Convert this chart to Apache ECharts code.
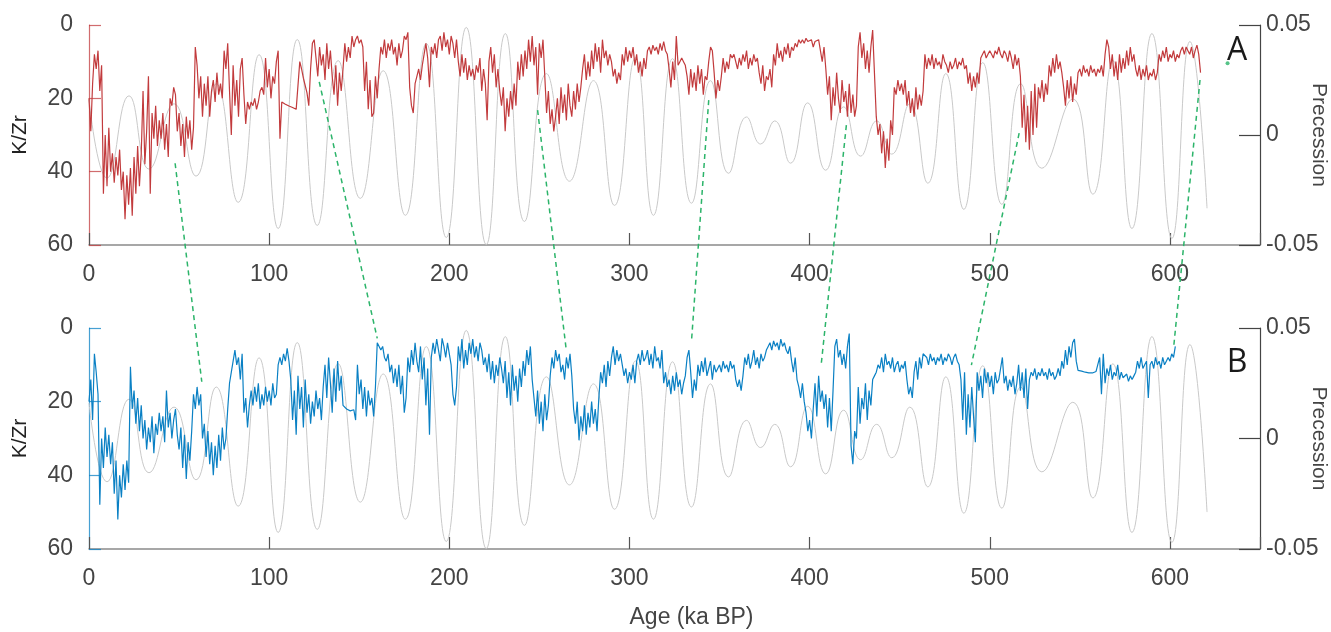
<!DOCTYPE html>
<html>
<head>
<meta charset="utf-8">
<script src="https://cdn.jsdelivr.net/npm/echarts@6/dist/echarts.min.js"></script>
<style>
  html, body { margin: 0; padding: 0; background: #fff; }
  #chart { width: 1331px; height: 632px; }
</style>
</head>
<body>
<div id="chart"></div>
<script>
// K/Zr record A, one value per ka starting at 0 ka
var ageStepA = 1;
var kzrA = [
  20, 29, 16, 8, 12, 7, 18, 11, 46, 30,
  44, 28, 40, 35, 43, 36, 41, 34, 45, 40,
  53, 41, 49, 39, 52, 36, 46, 33, 44, 35,
  18, 38, 29, 14, 46, 24, 31, 22, 33, 26,
  31, 24, 34, 27, 36, 20, 22, 17, 19, 29,
  24, 33, 27, 36, 25, 31, 26, 34, 28, 6,
  11, 20, 14, 25, 16, 22, 14, 25, 18, 15,
  21, 13, 19, 16, 20, 7, 12, 5, 18, 30,
  11, 22, 15, 25, 12, 9, 19, 27, 21, 23,
  21, 22, 20, 23, 21, 18, 17, 19, 9, 17,
  12, 20, 14, 16, 10, 7, 31, 21, 21.3, 21.6,
  21.9, 22.1, 22.3, 22.5, 22.7, 23, 23, 10, 12, 14.5,
  16.5, 18.5, 22, 12, 5, 4, 9, 14, 6, 11,
  8, 15, 5, 12, 7, 14, 19, 11, 22, 13,
  18, 12, 5, 10, 6, 9, 3, 6, 4, 3,
  5, 4, 6, 18, 10, 23, 15, 25, 24, 14,
  20, 12, 6, 8, 4, 9, 5, 7, 4, 8,
  6, 11, 5, 9, 7, 3, 4, 2, 17, 22,
  24, 16, 14, 12, 15, 11, 8, 5, 9, 17,
  6, 8, 5, 9, 4, 3, 7, 2, 6, 4,
  8, 3, 5, 9, 4, 10, 14, 8, 13, 9,
  15, 11, 14, 12, 15, 11, 13, 9, 18, 12,
  16, 26, 10, 6, 13, 8, 17, 12, 18, 22,
  17, 29, 20, 25, 18, 23, 16, 22, 10, 15,
  8, 14, 7, 12, 4, 10, 3, 11, 6, 19,
  5, 9, 4, 14, 24, 18, 27, 23, 29, 25,
  20, 27, 17, 24, 19, 26, 16, 22, 25, 18,
  23, 16, 21, 17, 12, 8, 15, 10, 14, 7,
  12, 5, 10, 6, 13, 4, 9, 7, 11, 8,
  10, 14, 12, 16, 13, 15, 8, 11, 6, 10,
  7, 9, 6, 11, 8, 13, 10, 14, 9, 12,
  7, 6, 8, 5.5, 7, 6, 8, 5, 7, 4.5,
  7, 8, 12, 17, 10, 15, 3, 11, 10, 9,
  10, 11, 14, 19, 12, 17, 13, 18, 11, 16,
  12, 19, 14, 15, 10, 6, 7, 13, 20, 15,
  18, 14, 9, 13, 10, 12, 8, 9, 8, 8.5,
  12, 9, 11, 8, 10, 7, 12, 9, 11, 8,
  10, 9, 13, 16, 11, 18, 14, 15, 12, 17,
  8, 11, 5, 9, 7, 10, 6, 8, 5, 9,
  6, 7, 5, 6, 4, 5, 4, 5, 3.6, 4.5,
  5, 4, 6, 4.5, 5, 4, 7, 10, 6, 12,
  19, 14, 26, 17, 22, 13, 20, 24, 15, 21,
  18, 25, 16, 24, 19, 25, 22, 6, 2, 9,
  5, 12, 7, 13, 6, 1.4, 1.5, 25, 30, 27,
  35, 29, 39, 31, 37, 26, 30, 17, 19, 15,
  18, 16, 19, 15, 22, 18, 24, 20, 25, 17,
  23, 19, 22, 18, 8, 12, 9, 11, 8, 12,
  9, 11, 10, 12, 8, 10, 11, 13, 10, 12,
  11, 9, 12, 10, 11, 9, 12, 11, 16, 13,
  18, 14, 17, 13, 16, 9, 8, 7, 9, 8,
  7, 8, 9, 7, 8, 6, 8, 9, 7, 8,
  10, 7, 9, 12, 8, 11, 9, 14, 28, 19,
  32, 22, 34, 18, 30, 16, 28, 17, 20, 15,
  21, 16, 19, 11, 14, 9, 13, 8, 12, 10,
  13, 17, 22, 15, 20, 14, 21, 16, 19, 13,
  12, 14, 11, 13, 12, 14, 11, 13, 12, 14,
  12, 13, 11, 14, 8, 4, 6, 12, 8, 14,
  10, 15, 8, 13, 9, 12, 7, 11, 6, 10,
  8, 12, 14, 11, 15, 12, 14, 11, 15, 13,
  14, 12, 15, 13, 8, 10, 7, 9, 6, 10,
  8, 9, 7, 10, 8, 9, 7, 6, 8, 6,
  7, 8, 6, 9, 7, 5.5, 8, 13
];

// K/Zr record B, one value per ka starting at 0 ka
var ageStepB = 1;
var kzrB = [
  20, 14, 25, 7, 12, 18, 48, 30, 38, 27,
  35, 29, 37, 31, 45, 36, 52, 40, 46, 37,
  44, 36, 42, 10.5, 22, 17, 26, 19, 28, 21,
  30, 25, 33, 27, 31, 24, 34, 26, 29, 23,
  28, 24, 31, 17, 27, 23, 30, 25, 22, 29,
  33, 27, 38, 29, 41, 31, 36, 28, 18, 22,
  16, 21, 18, 30, 26, 35, 28, 37, 31, 40,
  32, 38, 29, 36, 27, 33, 30, 22, 15, 12,
  9, 6, 10, 8, 14, 7, 23, 19, 27, 21,
  17, 21, 16, 20, 15, 22, 18, 21, 16, 20,
  17, 21, 15, 19, 18, 10, 8, 10, 7, 9,
  5.5, 9, 14, 25, 17, 29, 13, 22, 16, 27,
  14, 23, 18, 26, 20, 24, 17, 22, 19, 25,
  16, 10, 19, 8, 15, 23, 11, 20, 9, 17,
  13, 21, 21.5, 22, 22.3, 22.5, 22.4, 22.2, 25, 10,
  18, 14, 22, 16, 24, 17, 21, 19, 24, 16,
  4, 3.7, 6, 5, 8, 9, 7, 12, 10, 15,
  11, 16, 10, 18, 13, 23, 19, 8, 12, 6,
  10, 4, 9, 12, 5, 14, 8, 21, 11, 29,
  8, 4, 7, 3, 6, 9, 2.8, 5, 8, 4,
  7, 10, 18, 21, 16, 5, 9, 3, 11, 6,
  10, 4, 7, 3, 8, 5, 9, 4, 6, 10,
  8, 12, 7, 14, 9, 15, 10, 13, 8, 11,
  15, 9, 19, 12, 21, 10, 17, 13, 20, 11,
  16, 9, 13, 6, 10, 5, 14, 19, 24, 17,
  26, 20, 28, 18, 25, 21, 13, 8, 11, 6,
  9, 7, 12, 10, 14, 8, 11, 7, 13, 22,
  26, 20, 30.5, 24, 28, 21, 29, 23, 27, 20,
  26, 22, 28, 19, 12, 15, 10, 16, 9, 13,
  8, 5, 10, 6, 9, 7, 10, 13, 11, 15,
  12, 14, 10, 15, 9, 7, 10, 6, 9, 8,
  6, 10, 7, 11, 5, 9, 8, 11, 6, 15,
  12, 16, 14, 18, 13, 17, 12, 16, 14, 18,
  15, 13, 8, 6, 12, 19, 14, 17, 10, 13,
  9, 12, 8, 13, 11, 9, 14, 10, 12, 11,
  10, 12, 9, 11, 10, 12, 9, 11, 10, 14,
  16, 14, 17, 13, 8, 10, 7, 11, 9, 6,
  10, 8, 11, 7, 9, 8, 6, 5, 4, 6,
  3.5, 5, 4, 6, 3, 5, 4, 6, 7, 5,
  9, 12, 8, 14, 16, 19, 15, 20, 23, 28,
  25, 30, 22, 15, 24, 13, 20, 17, 22, 18,
  27, 19, 28, 17, 5, 3, 8, 6, 10, 7,
  11, 5, 1.5, 32, 37, 28, 30, 16, 26, 19,
  22, 15, 25, 17, 21, 14, 13, 12, 10, 11,
  8, 12, 7, 10, 9, 11, 8, 12, 10, 9,
  12, 10, 11, 9, 14, 18, 16, 19, 12, 9,
  14, 8, 11, 7, 6.5, 8, 10, 7, 9, 8,
  10, 8, 9, 7, 10, 8, 9, 7, 8, 10,
  8, 7, 9, 10, 14, 25, 12, 29, 18, 27,
  16, 24, 31, 12, 17, 13, 19, 11, 15, 12,
  16, 13, 18, 12, 15, 14, 11, 8, 15, 13,
  17, 14, 16, 13, 18, 15, 10, 17, 12, 19,
  11, 22, 14, 12, 13, 11, 14, 12, 13, 11,
  13, 12, 14, 11, 13, 12, 14, 13, 11, 13,
  9, 11, 6, 10, 5, 8, 4, 3, 9, 11.5,
  11.5, 11.7, 11.8, 12, 12.1, 12.2, 12.3, 12.2, 12, 11.8,
  12, 8, 18, 7, 15, 11, 13, 10, 14, 12,
  13, 10, 14, 12, 13.5, 14, 12.5, 14.5, 13, 14,
  13, 12, 9, 11, 8, 11, 10, 9, 19, 10,
  9, 11, 8, 10, 9, 11, 8, 10, 9, 8,
  9, 7, 8, 5
];

// precession turning points [age ka, value]
var precession = [
  [0, 0.016], [10, -0.0196], [22.2, 0.0178], [33.3, -0.0155], [47.2, 0.0142],
  [59.4, -0.0187], [70.6, 0.0233], [82.8, -0.0306], [94.4, 0.0365], [105, -0.0425],
  [115.6, 0.0434], [126.7, -0.0411], [138.3, 0.0338], [150.6, -0.0288], [163.3, 0.0292],
  [175.6, -0.0365], [187.2, 0.0416], [198.3, -0.0466], [209.4, 0.0489], [220.5, -0.0498],
  [231.1, 0.0461], [241.7, -0.0393], [253.9, 0.0279], [266.7, -0.021], [280, 0.0247],
  [291.7, -0.032], [303.3, 0.0351], [313.3, -0.0365], [323.9, 0.0347], [334.4, -0.031],
  [345, 0.0247], [355, -0.0174], [365, 0.0082], [372.8, -0.0041], [380.6, 0.0064],
  [389.4, -0.0128], [398.9, 0.0146], [408.9, -0.016], [418.9, 0.0128], [428.3, -0.0096],
  [437.2, 0.0064], [445.6, -0.0087], [455.6, 0.0142], [465.6, -0.0219], [475.6, 0.0279],
  [485.6, -0.0338], [496.1, 0.0329], [506.7, -0.0315], [517.2, 0.0233], [528.9, -0.0151],
  [546.1, 0.0164], [557.2, -0.0269], [568.3, 0.0338], [578.9, -0.0425], [590, 0.0461],
  [601.1, -0.047], [611.1, 0.0425], [620.6, -0.0333]
];

// tie points [age, K/Zr] in A and the matching points in B
var tieA = [[47.8, 37.7], [127.8, 15.5], [249, 23.2], [344, 20.5], [420.4, 27.3], [516.3, 29.5], [616.7, 15]];
var tieB = [[62.6, 14.6], [160, 2.8], [264.8, 5.5], [334.4, 3.8], [406.5, 9.6], [489.8, 10.1], [602.2, 4.6]];

var strayA = [[632, 10.4]];

var redColor = '#c23b3d';
var blueColor = '#0a80c4';
var greenColor = '#2cb46a';
var labelFont = 'Liberation Sans';
var tickFontSize = 23;

function toPairs(vals, step) {
    return vals.map(function (v, i) { return [i * step, v]; });
}

function xAxisFor(grid, withName) {
    return {
        type: 'value', gridIndex: grid, min: 0, max: 650, interval: 100,
        position: 'bottom',
        axisLine: { show: true, onZero: false, lineStyle: { color: '#8a8a8a', width: 1.5 } },
        axisTick: { show: true, inside: true, length: 12, lineStyle: { color: '#555', width: 1.2 } },
        axisLabel: {
            color: '#444', fontSize: tickFontSize, fontFamily: labelFont, margin: 18,
            formatter: function (v) { return v % 100 === 0 ? String(v) : ''; }
        },
        splitLine: { show: false },
        name: withName ? 'Age (ka BP)' : '',
        nameLocation: 'middle', nameGap: 57, nameMoveOverlap: false,
        nameTextStyle: { color: '#444', fontSize: tickFontSize, fontFamily: labelFont, padding: [0, 0, 0, 34] }
    };
}

function leftAxisFor(grid, color) {
    return {
        type: 'value', gridIndex: grid, inverse: true, min: 0, max: 60, interval: 20,
        position: 'left',
        axisLine: { show: true, onZero: false, lineStyle: { color: color, width: 1.2, opacity: 0.75 } },
        axisTick: { show: true, inside: true, length: 12, lineStyle: { color: color, width: 1.2, opacity: 0.75 } },
        axisLabel: { color: '#444', fontSize: tickFontSize, fontFamily: labelFont, margin: 16 },
        splitLine: { show: false },
        name: 'K/Zr', nameLocation: 'middle', nameGap: 58, nameRotate: 90, nameMoveOverlap: false,
        nameTextStyle: { color: '#222', fontSize: 21, fontFamily: labelFont }
    };
}

function rightAxisFor(grid) {
    return {
        type: 'value', gridIndex: grid, min: -0.05, max: 0.05, interval: 0.05,
        position: 'right',
        axisLine: { show: true, onZero: false, lineStyle: { color: '#444', width: 1.2 } },
        axisTick: { show: true, inside: true, length: 21, lineStyle: { color: '#444', width: 1.2 } },
        axisLabel: {
            color: '#444', fontSize: tickFontSize, fontFamily: labelFont, margin: 6,
            formatter: function (v) { return Math.abs(v) < 1e-9 ? '0' : v.toFixed(2); }
        },
        splitLine: { show: false },
        name: 'Precession', nameLocation: 'middle', nameGap: 48, nameRotate: -90, nameMoveOverlap: false,
        nameTextStyle: { color: '#444', fontSize: 21, fontFamily: labelFont }
    };
}

function precSeries(xi, yi) {
    return {
        type: 'line', xAxisIndex: xi, yAxisIndex: yi, data: precession,
        smooth: 0.5, showSymbol: false, silent: true, z: 1,
        lineStyle: { color: '#c9c9c9', width: 1 }
    };
}

function kzrSeries(xi, yi, data, color) {
    return {
        type: 'line', xAxisIndex: xi, yAxisIndex: yi, data: data,
        showSymbol: false, silent: true, z: 2,
        lineStyle: { color: color, width: 1.2 }
    };
}

var myChart = echarts.init(document.getElementById('chart'));
var option = {
    animation: false,
    backgroundColor: '#fff',
    grid: [
        { left: 89, right: 71, top: 25, height: 220, containLabel: false, outerBoundsMode: 'none' },
        { left: 89, right: 71, top: 328, height: 221, containLabel: false, outerBoundsMode: 'none' }
    ],
    xAxis: [xAxisFor(0, false), xAxisFor(1, true)],
    yAxis: [leftAxisFor(0, redColor), rightAxisFor(0), leftAxisFor(1, blueColor), rightAxisFor(1)],
    series: [
        precSeries(0, 1),
        kzrSeries(0, 0, toPairs(kzrA, ageStepA), redColor),
        precSeries(1, 3),
        kzrSeries(1, 2, toPairs(kzrB, ageStepB), blueColor),
        {
            type: 'scatter', xAxisIndex: 0, yAxisIndex: 0, data: strayA,
            symbolSize: 4, itemStyle: { color: greenColor }, silent: true
        }
    ]
};
myChart.setOption(option);

// dashed tie lines between the two panels
var graphics = [];
for (var i = 0; i < tieA.length; i++) {
    var p1 = myChart.convertToPixel({ xAxisIndex: 0, yAxisIndex: 0 }, tieA[i]);
    var p2 = myChart.convertToPixel({ xAxisIndex: 1, yAxisIndex: 2 }, tieB[i]);
    graphics.push({
        type: 'line', silent: true, z: 10,
        shape: { x1: p1[0], y1: p1[1], x2: p2[0], y2: p2[1] },
        style: { stroke: greenColor, lineWidth: 1.5, lineDash: [5, 4] }
    });
}
graphics.push({
    type: 'text', z: 10,
    style: { x: 1237, y: 51, text: 'A', align: 'center', verticalAlign: 'middle',
             fontSize: 32, fontFamily: 'Open Sans', fill: '#1a1a1a' }
});
graphics.push({
    type: 'text', z: 10,
    style: { x: 1237, y: 363, text: 'B', align: 'center', verticalAlign: 'middle',
             fontSize: 32, fontFamily: 'Open Sans', fill: '#1a1a1a' }
});
myChart.setOption({ graphic: graphics });
</script>
</body>
</html>
